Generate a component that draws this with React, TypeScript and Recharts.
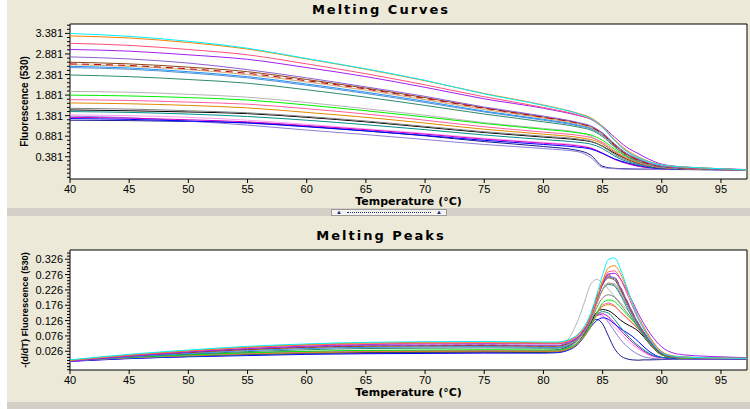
import React from 'react';
import { LineChart, Line, XAxis, YAxis, CartesianGrid, ReferenceArea } from 'recharts';

// temperature points (°C)
const curveTemps = [40, 45, 50, 55, 60, 65, 70, 75, 80, 83, 84, 85, 86, 87, 88, 89, 90, 92, 95, 97.2];
const peakTemps = [40, 45, 50, 55, 60, 65, 70, 75, 80, 81, 82, 83, 83.5, 84, 84.5, 85, 85.5, 86, 86.5, 87, 87.5, 88, 88.5, 89, 90, 91, 92, 95, 97.2];

const tempTicks = [40, 45, 50, 55, 60, 65, 70, 75, 80, 85, 90, 95];
const curveTicks = [0.381, 0.881, 1.381, 1.881, 2.381, 2.881, 3.381];
const peakTicks = [0.026, 0.076, 0.126, 0.176, 0.226, 0.276, 0.326];

// Melting curves: fluorescence (530)
const curveCyan = [3.38, 3.31, 3.19, 3.02, 2.77, 2.52, 2.24, 1.91, 1.63, 1.42, 1.31, 1.10, 0.78, 0.52, 0.36, 0.25, 0.18, 0.13, 0.09, 0.06];
const curveOrange = [3.32, 3.27, 3.16, 3.00, 2.76, 2.51, 2.23, 1.92, 1.64, 1.43, 1.33, 1.12, 0.80, 0.55, 0.38, 0.26, 0.18, 0.13, 0.09, 0.06];
const curveSalmon = [3.14, 3.09, 2.99, 2.86, 2.64, 2.40, 2.13, 1.84, 1.58, 1.39, 1.29, 1.09, 0.78, 0.52, 0.36, 0.25, 0.18, 0.12, 0.09, 0.06];
const curvePurple = [2.99, 2.95, 2.86, 2.75, 2.55, 2.33, 2.07, 1.79, 1.56, 1.38, 1.30, 1.12, 0.86, 0.62, 0.46, 0.31, 0.20, 0.13, 0.09, 0.07];
const curveViolet = [2.81, 2.76, 2.66, 2.50, 2.30, 2.08, 1.85, 1.59, 1.37, 1.21, 1.13, 0.96, 0.70, 0.47, 0.33, 0.22, 0.15, 0.11, 0.08, 0.06];
const curveBrown = [2.68, 2.64, 2.56, 2.45, 2.26, 2.05, 1.82, 1.57, 1.35, 1.20, 1.12, 0.95, 0.68, 0.45, 0.31, 0.21, 0.15, 0.11, 0.08, 0.06];
const curveDarkRed = [2.64, 2.60, 2.52, 2.41, 2.23, 2.03, 1.80, 1.56, 1.34, 1.19, 1.11, 0.93, 0.66, 0.44, 0.30, 0.20, 0.14, 0.10, 0.08, 0.06];
const curveTan = [2.62, 2.58, 2.50, 2.38, 2.20, 2.00, 1.77, 1.53, 1.32, 1.17, 1.09, 0.92, 0.65, 0.43, 0.30, 0.20, 0.14, 0.10, 0.08, 0.06];
const curveBlue = [2.58, 2.54, 2.45, 2.33, 2.15, 1.95, 1.73, 1.49, 1.29, 1.15, 1.08, 0.92, 0.66, 0.44, 0.30, 0.20, 0.14, 0.10, 0.08, 0.06];
const curveSteel = [2.55, 2.51, 2.42, 2.30, 2.12, 1.92, 1.70, 1.47, 1.27, 1.13, 1.06, 0.90, 0.64, 0.43, 0.29, 0.19, 0.13, 0.10, 0.08, 0.06];
const curveSeaGreen = [2.37, 2.33, 2.26, 2.17, 2.01, 1.83, 1.63, 1.42, 1.23, 1.10, 1.03, 0.87, 0.62, 0.41, 0.28, 0.19, 0.13, 0.10, 0.08, 0.06];
const curveLightGray = [1.97, 1.95, 1.90, 1.83, 1.70, 1.55, 1.39, 1.21, 1.07, 0.97, 0.88, 0.70, 0.50, 0.36, 0.26, 0.18, 0.13, 0.10, 0.08, 0.06];
const curveGreen = [1.88, 1.86, 1.82, 1.76, 1.64, 1.50, 1.35, 1.19, 1.05, 0.96, 0.91, 0.78, 0.57, 0.39, 0.27, 0.19, 0.13, 0.10, 0.08, 0.06];
const curvePink = [1.77, 1.75, 1.71, 1.66, 1.55, 1.42, 1.27, 1.11, 0.98, 0.90, 0.85, 0.73, 0.53, 0.36, 0.25, 0.17, 0.12, 0.09, 0.07, 0.06];
const curveOrange2 = [1.69, 1.67, 1.63, 1.57, 1.46, 1.34, 1.20, 1.05, 0.93, 0.85, 0.80, 0.69, 0.50, 0.34, 0.24, 0.17, 0.12, 0.09, 0.07, 0.06];
const curveGray = [1.56, 1.54, 1.50, 1.45, 1.36, 1.25, 1.12, 0.99, 0.88, 0.81, 0.76, 0.63, 0.44, 0.30, 0.21, 0.15, 0.11, 0.09, 0.07, 0.06];
const curveBlack = [1.52, 1.50, 1.47, 1.43, 1.34, 1.23, 1.10, 0.97, 0.86, 0.79, 0.75, 0.64, 0.47, 0.33, 0.22, 0.15, 0.11, 0.09, 0.07, 0.06];
const curveTeal = [1.48, 1.46, 1.42, 1.36, 1.27, 1.16, 1.04, 0.91, 0.80, 0.73, 0.69, 0.58, 0.40, 0.27, 0.19, 0.13, 0.10, 0.08, 0.07, 0.06];
const curveLightPink = [1.40, 1.38, 1.34, 1.27, 1.17, 1.06, 0.95, 0.83, 0.73, 0.66, 0.60, 0.46, 0.32, 0.22, 0.15, 0.11, 0.09, 0.08, 0.07, 0.06];
const curveMagenta = [1.34, 1.32, 1.28, 1.23, 1.14, 1.04, 0.93, 0.81, 0.71, 0.64, 0.59, 0.47, 0.32, 0.22, 0.15, 0.11, 0.09, 0.08, 0.07, 0.06];
const curveBlue2 = [1.31, 1.29, 1.25, 1.20, 1.11, 1.01, 0.90, 0.78, 0.68, 0.61, 0.57, 0.46, 0.33, 0.24, 0.17, 0.12, 0.09, 0.08, 0.07, 0.06];
const curveLavender = [1.37, 1.33, 1.25, 1.15, 1.03, 0.92, 0.80, 0.68, 0.58, 0.50, 0.36, 0.12, 0.09, 0.08, 0.08, 0.07, 0.07, 0.07, 0.06, 0.06];
const curveNavy = [1.27, 1.26, 1.24, 1.21, 1.12, 1.01, 0.89, 0.75, 0.63, 0.53, 0.42, 0.15, 0.10, 0.09, 0.08, 0.08, 0.07, 0.07, 0.06, 0.06];

// Melting peaks: -(d/dT) fluorescence (530)
const peakCyan = [-0.002, 0.016, 0.030, 0.042, 0.050, 0.055, 0.057, 0.058, 0.056, 0.056, 0.062, 0.085, 0.110, 0.150, 0.210, 0.275, 0.325, 0.330, 0.295, 0.240, 0.185, 0.135, 0.098, 0.065, 0.022, 0.010, 0.007, 0.004, 0.003];
const peakOrange = [-0.004, 0.014, 0.028, 0.040, 0.048, 0.053, 0.055, 0.056, 0.054, 0.054, 0.060, 0.082, 0.105, 0.140, 0.195, 0.255, 0.298, 0.305, 0.280, 0.235, 0.185, 0.140, 0.105, 0.072, 0.025, 0.011, 0.007, 0.004, 0.003];
const peakSalmon = [-0.003, 0.013, 0.027, 0.038, 0.046, 0.050, 0.052, 0.053, 0.051, 0.051, 0.057, 0.080, 0.103, 0.140, 0.195, 0.250, 0.285, 0.288, 0.262, 0.220, 0.175, 0.132, 0.098, 0.068, 0.024, 0.010, 0.007, 0.004, 0.003];
const peakPurple = [-0.006, 0.010, 0.024, 0.035, 0.043, 0.048, 0.050, 0.051, 0.050, 0.050, 0.055, 0.075, 0.098, 0.135, 0.190, 0.245, 0.278, 0.280, 0.262, 0.228, 0.190, 0.150, 0.115, 0.085, 0.040, 0.020, 0.014, 0.008, 0.005];
const peakViolet = [-0.004, 0.011, 0.024, 0.034, 0.041, 0.045, 0.046, 0.047, 0.045, 0.045, 0.051, 0.075, 0.100, 0.140, 0.195, 0.245, 0.270, 0.265, 0.235, 0.195, 0.155, 0.118, 0.088, 0.060, 0.020, 0.009, 0.006, 0.004, 0.003];
const peakBrown = [-0.005, 0.010, 0.022, 0.032, 0.039, 0.043, 0.044, 0.045, 0.043, 0.043, 0.050, 0.074, 0.100, 0.140, 0.195, 0.243, 0.265, 0.258, 0.228, 0.188, 0.150, 0.115, 0.085, 0.058, 0.018, 0.008, 0.006, 0.004, 0.003];
const peakDarkRed = [-0.004, 0.011, 0.023, 0.033, 0.040, 0.044, 0.045, 0.046, 0.044, 0.044, 0.051, 0.076, 0.102, 0.145, 0.202, 0.252, 0.275, 0.268, 0.236, 0.195, 0.155, 0.118, 0.088, 0.060, 0.019, 0.008, 0.006, 0.004, 0.003];
const peakTan = [-0.003, 0.011, 0.022, 0.031, 0.038, 0.042, 0.043, 0.044, 0.042, 0.042, 0.048, 0.070, 0.094, 0.130, 0.180, 0.225, 0.248, 0.246, 0.222, 0.188, 0.152, 0.118, 0.088, 0.060, 0.019, 0.008, 0.006, 0.004, 0.003];
const peakBlue = [-0.006, 0.008, 0.019, 0.029, 0.036, 0.040, 0.041, 0.042, 0.040, 0.040, 0.047, 0.072, 0.098, 0.138, 0.195, 0.245, 0.268, 0.262, 0.232, 0.192, 0.152, 0.115, 0.085, 0.057, 0.018, 0.008, 0.006, 0.004, 0.003];
const peakSteel = [-0.004, 0.009, 0.020, 0.029, 0.035, 0.039, 0.040, 0.041, 0.039, 0.039, 0.046, 0.070, 0.095, 0.132, 0.182, 0.228, 0.248, 0.242, 0.215, 0.180, 0.145, 0.110, 0.082, 0.056, 0.018, 0.008, 0.006, 0.004, 0.003];
const peakSeaGreen = [-0.005, 0.007, 0.017, 0.025, 0.031, 0.035, 0.036, 0.037, 0.036, 0.036, 0.043, 0.068, 0.094, 0.132, 0.182, 0.226, 0.244, 0.238, 0.210, 0.172, 0.136, 0.104, 0.076, 0.052, 0.016, 0.007, 0.005, 0.003, 0.002];
const peakLightGray = [-0.002, 0.006, 0.013, 0.019, 0.024, 0.027, 0.028, 0.029, 0.030, 0.034, 0.060, 0.135, 0.190, 0.245, 0.260, 0.248, 0.228, 0.205, 0.185, 0.165, 0.140, 0.110, 0.080, 0.052, 0.015, 0.006, 0.004, 0.003, 0.002];
const peakGreen = [-0.004, 0.006, 0.014, 0.021, 0.026, 0.029, 0.030, 0.031, 0.030, 0.030, 0.036, 0.058, 0.080, 0.110, 0.150, 0.183, 0.193, 0.188, 0.170, 0.148, 0.128, 0.105, 0.078, 0.052, 0.015, 0.006, 0.004, 0.003, 0.002];
const peakPink = [-0.005, 0.005, 0.013, 0.019, 0.024, 0.027, 0.028, 0.029, 0.028, 0.028, 0.034, 0.056, 0.078, 0.108, 0.148, 0.176, 0.183, 0.175, 0.155, 0.135, 0.117, 0.098, 0.075, 0.050, 0.015, 0.006, 0.004, 0.003, 0.002];
const peakOrange2 = [-0.003, 0.006, 0.013, 0.018, 0.022, 0.025, 0.026, 0.027, 0.026, 0.026, 0.032, 0.054, 0.076, 0.106, 0.145, 0.172, 0.178, 0.172, 0.155, 0.137, 0.120, 0.100, 0.076, 0.050, 0.015, 0.006, 0.004, 0.003, 0.002];
const peakGray = [-0.004, 0.005, 0.011, 0.017, 0.021, 0.024, 0.025, 0.026, 0.025, 0.025, 0.032, 0.058, 0.085, 0.122, 0.168, 0.200, 0.210, 0.202, 0.180, 0.155, 0.130, 0.105, 0.078, 0.052, 0.015, 0.006, 0.004, 0.003, 0.002];
const peakBlack = [-0.002, 0.006, 0.012, 0.017, 0.021, 0.023, 0.024, 0.025, 0.024, 0.025, 0.032, 0.058, 0.085, 0.120, 0.152, 0.162, 0.158, 0.145, 0.128, 0.115, 0.105, 0.092, 0.072, 0.048, 0.014, 0.006, 0.004, 0.003, 0.002];
const peakTeal = [-0.005, 0.004, 0.010, 0.015, 0.019, 0.022, 0.023, 0.024, 0.023, 0.024, 0.030, 0.055, 0.080, 0.112, 0.145, 0.155, 0.150, 0.130, 0.105, 0.082, 0.062, 0.045, 0.030, 0.018, 0.006, 0.004, 0.003, 0.002, 0.002];
const peakLightPink = [-0.004, 0.004, 0.010, 0.015, 0.019, 0.021, 0.022, 0.023, 0.023, 0.024, 0.032, 0.062, 0.090, 0.122, 0.143, 0.140, 0.125, 0.105, 0.085, 0.065, 0.048, 0.034, 0.022, 0.012, 0.004, 0.003, 0.002, 0.002, 0.001];
const peakMagenta = [-0.006, 0.003, 0.009, 0.014, 0.018, 0.020, 0.021, 0.022, 0.022, 0.023, 0.030, 0.058, 0.086, 0.120, 0.142, 0.148, 0.138, 0.118, 0.095, 0.075, 0.056, 0.040, 0.026, 0.015, 0.005, 0.003, 0.002, 0.002, 0.001];
const peakBlue2 = [-0.007, 0.002, 0.008, 0.012, 0.016, 0.018, 0.019, 0.020, 0.020, 0.021, 0.028, 0.052, 0.076, 0.105, 0.126, 0.135, 0.130, 0.115, 0.100, 0.088, 0.075, 0.058, 0.040, 0.024, 0.006, 0.003, 0.002, 0.002, 0.001];
const peakLavender = [-0.003, 0.006, 0.014, 0.020, 0.024, 0.025, 0.025, 0.025, 0.025, 0.027, 0.036, 0.068, 0.098, 0.130, 0.150, 0.142, 0.120, 0.092, 0.065, 0.044, 0.028, 0.016, 0.008, 0.004, 0.001, 0.001, 0.001, 0.001, 0.001];
const peakNavy = [-0.004, 0.007, 0.015, 0.021, 0.025, 0.026, 0.026, 0.026, 0.027, 0.030, 0.040, 0.068, 0.092, 0.118, 0.130, 0.115, 0.075, 0.035, 0.012, 0.002, -0.002, -0.003, -0.002, -0.002, -0.001, 0.000, 0.000, 0.000, 0.000];

const samples = [
  { key: 'lightGray', color: '#B4B4B4', curve: curveLightGray, peak: peakLightGray },
  { key: 'navy', color: '#1A1A8C', curve: curveNavy, peak: peakNavy },
  { key: 'lavender', color: '#8C7FD6', curve: curveLavender, peak: peakLavender },
  { key: 'lightPink', color: '#FF9CF0', curve: curveLightPink, peak: peakLightPink },
  { key: 'magenta', color: '#D000C8', curve: curveMagenta, peak: peakMagenta },
  { key: 'blue2', color: '#0000FF', curve: curveBlue2, peak: peakBlue2 },
  { key: 'teal', color: '#00908C', curve: curveTeal, peak: peakTeal },
  { key: 'black', color: '#000000', curve: curveBlack, peak: peakBlack },
  { key: 'gray', color: '#808080', curve: curveGray, peak: peakGray },
  { key: 'orange2', color: '#E08A00', curve: curveOrange2, peak: peakOrange2 },
  { key: 'pink', color: '#FF5FA0', curve: curvePink, peak: peakPink },
  { key: 'green', color: '#00F000', curve: curveGreen, peak: peakGreen },
  { key: 'seaGreen', color: '#2E8B6A', curve: curveSeaGreen, peak: peakSeaGreen },
  { key: 'steel', color: '#4F8FD0', curve: curveSteel, peak: peakSteel },
  { key: 'blue', color: '#2090FF', curve: curveBlue, peak: peakBlue },
  { key: 'tan', color: '#D2A56E', curve: curveTan, peak: peakTan },
  { key: 'brown', color: '#8B4513', curve: curveBrown, peak: peakBrown },
  { key: 'darkRed', color: '#C00000', curve: curveDarkRed, peak: peakDarkRed, dash: '7 5' },
  { key: 'violet', color: '#8A60D0', curve: curveViolet, peak: peakViolet },
  { key: 'purple', color: '#A020F0', curve: curvePurple, peak: peakPurple },
  { key: 'salmon', color: '#FF4F7A', curve: curveSalmon, peak: peakSalmon },
  { key: 'orange', color: '#FF8000', curve: curveOrange, peak: peakOrange },
  { key: 'cyan', color: '#00F0FF', curve: curveCyan, peak: peakCyan },
];

const curveRows = curveTemps.map((t, i) => {
  const row: Record<string, number> = { t };
  samples.forEach((s) => { row[s.key] = s.curve[i]; });
  return row;
});
const peakRows = peakTemps.map((t, i) => {
  const row: Record<string, number> = { t };
  samples.forEach((s) => { row[s.key] = s.peak[i]; });
  return row;
});

// majors plus 4 minor ticks between each
const withMinor = (majors: number[], step: number, lo: number, hi: number) => {
  const out: number[] = [];
  const base = majors[0];
  for (let k = Math.ceil((lo - base) / step); base + k * step <= hi; k++) {
    out.push(+(base + k * step).toFixed(4));
  }
  return out;
};

const curveDomain = [-0.16, 3.61];
const peakDomain = [-0.035, 0.356];
const curveAllTicks = withMinor(curveTicks, 0.1, curveDomain[0], curveDomain[1]);
const peakAllTicks = withMinor(peakTicks, 0.01, peakDomain[0], peakDomain[1]);

const FONT = '"Liberation Sans", Arial, sans-serif';

const YTick = ({ x, y, payload, majors }: any) => {
  const major = majors.some((m: number) => Math.abs(m - payload.value) < 1e-6);
  return (
    <g>
      <line x1={x - (major ? 5 : 3)} x2={x} y1={y} y2={y} stroke="#000" />
      {major && (
        <text x={x - 7} y={y} dy={4} textAnchor="end" fontSize={11} fontFamily={FONT} fill="#000">
          {payload.value.toFixed(3)}
        </text>
      )}
    </g>
  );
};

const YTitle = ({ viewBox, text, size }: any) => {
  const cx = viewBox.x + 24;
  const cy = viewBox.y + viewBox.height / 2;
  return (
    <text x={cx} y={cy} dy={4} transform={`rotate(-90 ${cx} ${cy})`} textAnchor="middle"
      fontSize={size} fontWeight="bold" fontFamily={FONT} fill="#000">
      {text}
    </text>
  );
};

const XTitle = ({ viewBox }: any) => (
  <text x={viewBox.x + viewBox.width / 2} y={viewBox.y + 26} textAnchor="middle"
    fontSize={11} fontWeight="bold" fontFamily='"DejaVu Sans", sans-serif' fill="#000">
    Temperature (°C)
  </text>
);

const titleStyle: React.CSSProperties = {
  position: 'absolute', left: 231, width: 300, textAlign: 'center',
  fontFamily: '"DejaVu Sans", sans-serif', fontWeight: 'bold', fontSize: 13,
  letterSpacing: 2, lineHeight: '16px', color: '#000',
};

const Panel = ({ rows, domain, majors, allTicks, yTitle, yTitleSize, top, height, marginTop }: any) => (
  <div style={{ position: 'absolute', left: 0, top }}>
    <LineChart width={750} height={height} data={rows} margin={{ top: marginTop, right: 3, bottom: 0, left: 0 }}>
      <CartesianGrid horizontal={false} vertical={false} fill="#fff" />
      <XAxis dataKey="t" type="number" domain={[40, 97.2]} ticks={tempTicks} interval={0} allowDataOverflow
        height={height - marginTop - (top === 0 ? 155 : 120)} tickSize={4} tickMargin={2} axisLine={false}
        tickLine={{ stroke: '#000' }} tick={{ fontSize: 11, fill: '#000', fontFamily: FONT }}
        label={<XTitle />} />
      <YAxis type="number" domain={domain} ticks={allTicks} interval={0} allowDataOverflow width={70}
        tickSize={0} tickMargin={0} tickLine={false} axisLine={false}
        tick={<YTick majors={majors} />} label={<YTitle text={yTitle} size={yTitleSize} />} />
      {samples.map((s) => (
        <Line key={s.key} type="monotone" dataKey={s.key} stroke={s.color} strokeWidth={1}
          strokeDasharray={(s as any).dash} dot={false} activeDot={false} isAnimationActive={false} />
      ))}
      <ReferenceArea x1={40} x2={97.2} y1={domain[0]} y2={domain[1]} fill="none" stroke="#000"
        strokeWidth={1} ifOverflow="visible" />
    </LineChart>
  </div>
);

export default function App() {
  return (
    <div style={{ position: 'absolute', left: 0, top: 0, width: 750, height: 409, background: '#fff', overflow: 'hidden' }}>
      <div style={{ position: 'absolute', left: 7, top: 0, width: 743, height: 402, background: '#ECE9D8' }} />
      <div style={{ ...titleStyle, top: 2 }}>Melting Curves</div>
      <Panel rows={curveRows} domain={curveDomain} majors={curveTicks} allTicks={curveAllTicks}
        yTitle="Fluorescence (530)" yTitleSize={10} top={0} height={207} marginTop={24} />
      <div style={{ position: 'absolute', left: 7, top: 208, width: 743, height: 8, background: '#D4D0C8' }} />
      <div style={{ position: 'absolute', left: 331, top: 209, width: 116, height: 7, boxSizing: 'border-box',
        border: '1px solid #9A9A9A', background: '#F4F3EE', display: 'flex', alignItems: 'center', padding: '0 4px' }}>
        <span style={{ fontSize: 6, lineHeight: '5px', color: '#1C2A8C' }}>▲</span>
        <span style={{ flex: 1, margin: '0 5px', borderTop: '1px dotted #1C2A8C' }} />
        <span style={{ fontSize: 6, lineHeight: '5px', color: '#1C2A8C' }}>▲</span>
      </div>
      <div style={{ ...titleStyle, top: 228 }}>Melting Peaks</div>
      <Panel rows={peakRows} domain={peakDomain} majors={peakTicks} allTicks={peakAllTicks}
        yTitle="-(d/dT) Fluorescence (530)" yTitleSize={9.3} top={216} height={186} marginTop={34} />
      <div style={{ position: 'absolute', left: 7, top: 402, width: 743, height: 7, background: '#D4D0C8' }} />
    </div>
  );
}
